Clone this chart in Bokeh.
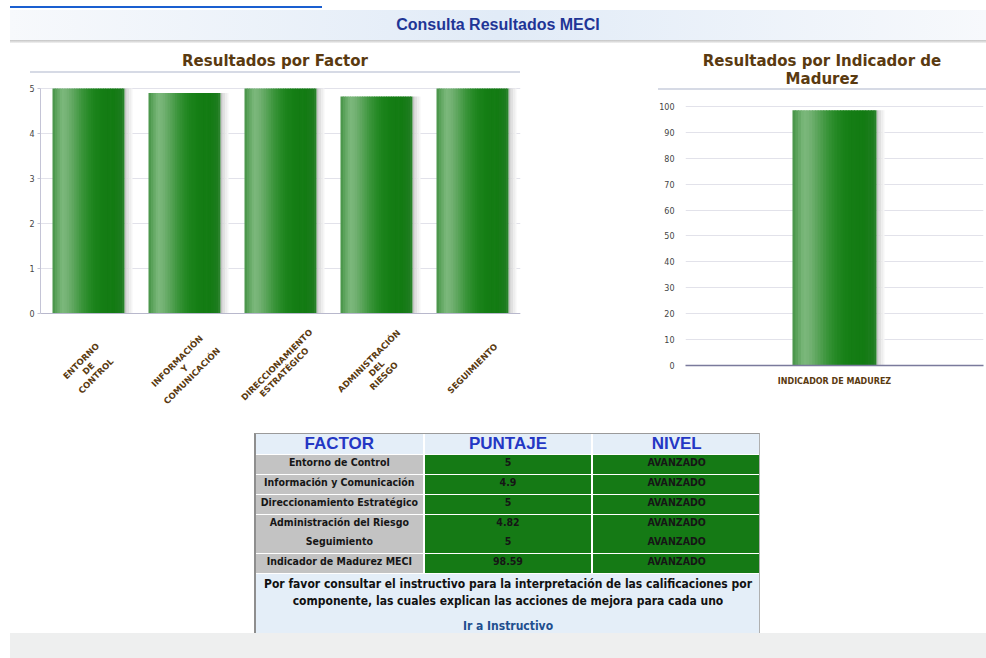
import math
from bokeh.plotting import figure
from bokeh.models import ColumnDataSource, Div, FixedTicker, Range1d, LabelSet, Span
from bokeh.core.properties import value
from bokeh.layouts import column, row
from bokeh.transform import dodge
from bokeh.embed import file_html
from bokeh.resources import INLINE

# ---------------- data ----------------
page_title = "Consulta Resultados MECI"
chart1_title = ["Resultados por Factor"]
chart2_title = ["Resultados por Indicador de", "Madurez"]
factor_axis_labels = ["ENTORNO\nDE\nCONTROL", "INFORMACIÓN\nY\nCOMUNICACIÓN",
                      "DIRECCIONAMIENTO\nESTRATÉGICO", "ADMINISTRACIÓN\nDEL\nRIESGO",
                      "SEGUIMIENTO"]
factor_names = ["Entorno de Control", "Información y Comunicación",
                "Direccionamiento Estratégico", "Administración del Riesgo", "Seguimiento"]
factor_scores = [5, 4.9, 5, 4.82, 5]
factor_levels = ["AVANZADO", "AVANZADO", "AVANZADO", "AVANZADO", "AVANZADO"]
factor_ticks = [0, 1, 2, 3, 4, 5]
indicator_axis_label = ["INDICADOR DE MADUREZ"]
indicator_name = "Indicador de Madurez MECI"
indicator_score = [98.59]
indicator_level = "AVANZADO"
indicator_ticks = [0, 10, 20, 30, 40, 50, 60, 70, 80, 90, 100]
table_headers = ["FACTOR", "PUNTAJE", "NIVEL"]
note_lines = ["Por favor consultar el instructivo para la interpretación de las calificaciones por",
              "componente, las cuales explican las acciones de mejora para cada uno"]
link_text = "Ir a Instructivo"

# ---------------- styles ----------------
TITLE_COLOR = "#5a3a10"
FONT = "DejaVu Sans"
CELL_FONT = "'DejaVu Sans Condensed','DejaVu Sans',sans-serif"
GRAD_STOPS = [(0.00, "#459245"), (0.06, "#5ea55e"), (0.13, "#7bb87b"), (0.20, "#76b376"),
              (0.30, "#5aa45a"), (0.40, "#3d963d"), (0.50, "#278a27"), (0.60, "#1a821a"),
              (0.70, "#147d14"), (0.86, "#137b13"), (0.95, "#1d7c1e"), (1.00, "#2d8530")]
SHADOW = ["#c4c4c4", "#d3d3d3", "#e1e1e1", "#ececec", "#f5f5f5"]
N_STRIPS = 30
LABEL_DROP = 55      # px below the baseline for the centre of each rotated label
LINE_STEP = 10.5     # px between lines of a rotated label


def _hex(c):
    return [int(c[i:i + 2], 16) for i in (1, 3, 5)]


def grad_color(f):
    for (f0, c0), (f1, c1) in zip(GRAD_STOPS[:-1], GRAD_STOPS[1:]):
        if f0 <= f <= f1:
            t = (f - f0) / (f1 - f0)
            a, b = _hex(c0), _hex(c1)
            return "#%02x%02x%02x" % tuple(round(a[k] + (b[k] - a[k]) * t) for k in range(3))
    return GRAD_STOPS[-1][1]


def gradient_bars(p, src, xcol, ycol, bw, unit_px):
    for j, c in enumerate(SHADOW):
        off = bw / 2 + (j + 0.5) * 1.6 * unit_px
        p.vbar(x=dodge(xcol, off, range=p.x_range), top=ycol, width=1.6 * unit_px,
               source=src, fill_color=c, line_color=None)
    sw = bw / N_STRIPS
    for i in range(N_STRIPS):
        c = grad_color((i + 0.5) / N_STRIPS)
        off = -bw / 2 + (i + 0.5) * sw
        extra = 0.8 * unit_px if i < N_STRIPS - 1 else 0
        p.vbar(x=dodge(xcol, off + extra / 2, range=p.x_range), top=ycol, width=sw + extra,
               source=src, fill_color=c, line_color=None)


def style_axes(p):
    for ax in (p.xaxis, p.yaxis):
        ax.major_label_text_font = FONT
        ax.minor_tick_line_color = None
    p.yaxis.major_label_text_font_size = "8px"
    p.yaxis.major_label_text_color = "#444444"
    p.xaxis.major_tick_line_color = None
    p.xaxis.major_label_text_font_style = "bold"
    p.xaxis.major_label_text_color = TITLE_COLOR
    p.xgrid.grid_line_color = None
    p.ygrid.grid_line_color = "#e2e2ea"
    p.outline_line_color = None


def title_div(lines, width, height, left, inner_w, top):
    txt = "<br>".join(lines)
    html = (f'<div style="position:relative;width:{width}px;height:{height}px;">'
            f'<div style="position:absolute;left:{left}px;top:{top}px;width:{inner_w}px;'
            f"text-align:center;font-family:'{FONT}';font-size:15px;font-weight:bold;line-height:18px;"
            f'color:{TITLE_COLOR};border-bottom:2px solid #d6dae5;padding-bottom:{height - top - 18 * len(lines) - 2}px;">'
            f'{txt}</div></div>')
    return Div(text=html, width=width, height=height, margin=0)


# ---------------- left chart ----------------
src1 = ColumnDataSource(dict(cat=factor_axis_labels, val=factor_scores))
left = figure(x_range=factor_axis_labels, y_range=Range1d(-2.333, 5.111), width=530, height=347,
              output_backend="svg", toolbar_location=None,
              min_border_left=40, min_border_right=10, min_border_top=10, min_border_bottom=2)
gradient_bars(left, src1, "cat", "val", 0.75, 1 / 96)
style_axes(left)
left.xaxis.visible = False
left.yaxis.ticker = FixedTicker(ticks=factor_ticks)
left.yaxis.bounds = (0, 5)
left.yaxis.axis_line_color = "#c4c4d6"
left.yaxis.major_tick_line_color = "#c4c4d6"
left.yaxis.major_tick_out = 3
left.yaxis.major_tick_in = 0
left.yaxis.major_label_standoff = 3
left.add_layout(Span(location=0, dimension="width", line_color="#b8b8cc", line_width=1))

# rotated, centred multi-line category labels (one entry per line)
lab = dict(cat=[], line=[], dx=[], dy=[])
d = LINE_STEP / math.sqrt(2)
for lbl in factor_axis_labels:
    parts = lbl.split("\n")
    for i, part in enumerate(parts):
        k = i - (len(parts) - 1) / 2
        lab["cat"].append(lbl)
        lab["line"].append(part)
        lab["dx"].append(k * d)
        lab["dy"].append(-LABEL_DROP - k * d)
left.add_layout(LabelSet(x="cat", y=0, text="line", source=ColumnDataSource(lab),
                         angle=math.pi / 4, x_offset="dx", y_offset="dy",
                         text_align="center", text_baseline="middle",
                         text_font=value(FONT), text_font_size="8.5px", text_font_style="bold",
                         text_color=TITLE_COLOR))
left_title = title_div(chart1_title, 530, 28, 30, 490, 7)

# ---------------- right chart ----------------
src2 = ColumnDataSource(dict(cat=indicator_axis_label, val=indicator_score))
right = figure(x_range=indicator_axis_label, y_range=Range1d(0, 103.86), width=456, height=330,
               output_backend="svg", toolbar_location=None,
               min_border_left=155, min_border_right=3, min_border_top=6, min_border_bottom=55)
gradient_bars(right, src2, "cat", "val", 0.282, 1 / 298)
style_axes(right)
right.yaxis.ticker = FixedTicker(ticks=indicator_ticks)
right.yaxis.axis_line_color = None
right.yaxis.major_tick_line_color = None
right.xaxis.axis_line_color = "#7a7a9c"
right.xaxis.axis_line_width = 1.5
right.xaxis.major_label_text_font_size = "8px"
right_title = title_div(chart2_title, 456, 45, 128, 328, 7)

# ---------------- header ----------------
header_html = f"""
<div style="position:relative;width:986px;height:45px;">
 <div style="position:absolute;left:10px;top:6px;width:312px;height:2px;background:#1a5fd0;"></div>
 <div style="position:absolute;left:10px;top:10px;width:976px;height:30px;
      background:linear-gradient(to right,#f7f9fc 0%,#e1ebf7 50%,#f7f9fc 100%);
      text-align:center;line-height:30px;font-family:'Liberation Sans Narrow','Liberation Sans',Arial,sans-serif;
      font-weight:bold;font-size:16px;color:#1f3596;">{page_title}</div>
 <div style="position:absolute;left:10px;top:40px;width:976px;height:3px;
      background:linear-gradient(to bottom,#c4c4c4,#f2f2f2);"></div>
</div>"""
header = Div(text=header_html, width=986, height=45, margin=0)

# ---------------- table ----------------
td_base = "padding:0;text-align:center;vertical-align:top;font-weight:bold;"
cell_font = f"font-family:{CELL_FONT};font-size:10.5px;line-height:14px;color:#161616;"
head_cells = "".join(
    f'<td style="{td_base}height:20px;background:#e4eef8;vertical-align:middle;'
    f'font-family:Liberation Sans,Arial,sans-serif;font-size:17px;line-height:20px;color:#2437c4;">{h}</td>'
    for h in table_headers)
rows = [f"<tr>{head_cells}</tr>"]
groups = [[0], [1], [2], [3, 4]]
for g in groups:
    h = 19 * len(g)
    names = "".join(f'<div style="height:19px;">{factor_names[i]}</div>' for i in g)
    vals = "".join(f'<div style="height:19px;">{factor_scores[i]}</div>' for i in g)
    levs = "".join(f'<div style="height:19px;">{factor_levels[i]}</div>' for i in g)
    rows.append(
        f'<tr><td style="{td_base}{cell_font}height:{h}px;background:#c3c3c3;">{names}</td>'
        f'<td style="{td_base}{cell_font}height:{h}px;background:#157a15;">{vals}</td>'
        f'<td style="{td_base}{cell_font}height:{h}px;background:#157a15;">{levs}</td></tr>')
rows.append(
    f'<tr><td style="{td_base}{cell_font}height:19px;background:#c3c3c3;">{indicator_name}</td>'
    f'<td style="{td_base}{cell_font}height:19px;background:#157a15;">{indicator_score[0]}</td>'
    f'<td style="{td_base}{cell_font}height:19px;background:#157a15;">{indicator_level}</td></tr>')
note = "<br>".join(note_lines)
rows.append(
    f'<tr><td colspan="3" style="{td_base}height:60px;background:#e4eef8;'
    f'font-family:{CELL_FONT};font-size:12px;line-height:17px;color:#111;">'
    f'<div style="padding-top:2px;">{note}</div>'
    f'<div style="margin-top:8px;color:#1f4f8f;">{link_text}</div></td></tr>')

table_html = f"""
<div style="position:relative;width:986px;height:238px;">
 <div style="position:absolute;left:254px;top:13px;width:506px;height:200px;overflow:hidden;
      border-left:2px solid #8e8e8e;border-top:1px solid #9a9a9a;border-right:1px solid #b0b0b0;background:#ffffff;">
  <table style="border-collapse:separate;border-spacing:2px 1px;margin:-1px 0 0 -2px;width:508px;table-layout:fixed;">
   {''.join(rows)}
  </table>
 </div>
 <div style="position:absolute;left:10px;top:213px;width:976px;height:25px;background:#eeefef;"></div>
</div>"""
table = Div(text=table_html, width=986, height=238, margin=0)

layout = column(header,
                row(column(left_title, left, spacing=0), column(right_title, right, spacing=0), spacing=0),
                table, spacing=0)

open("out.html", "w").write(file_html(layout, INLINE))
